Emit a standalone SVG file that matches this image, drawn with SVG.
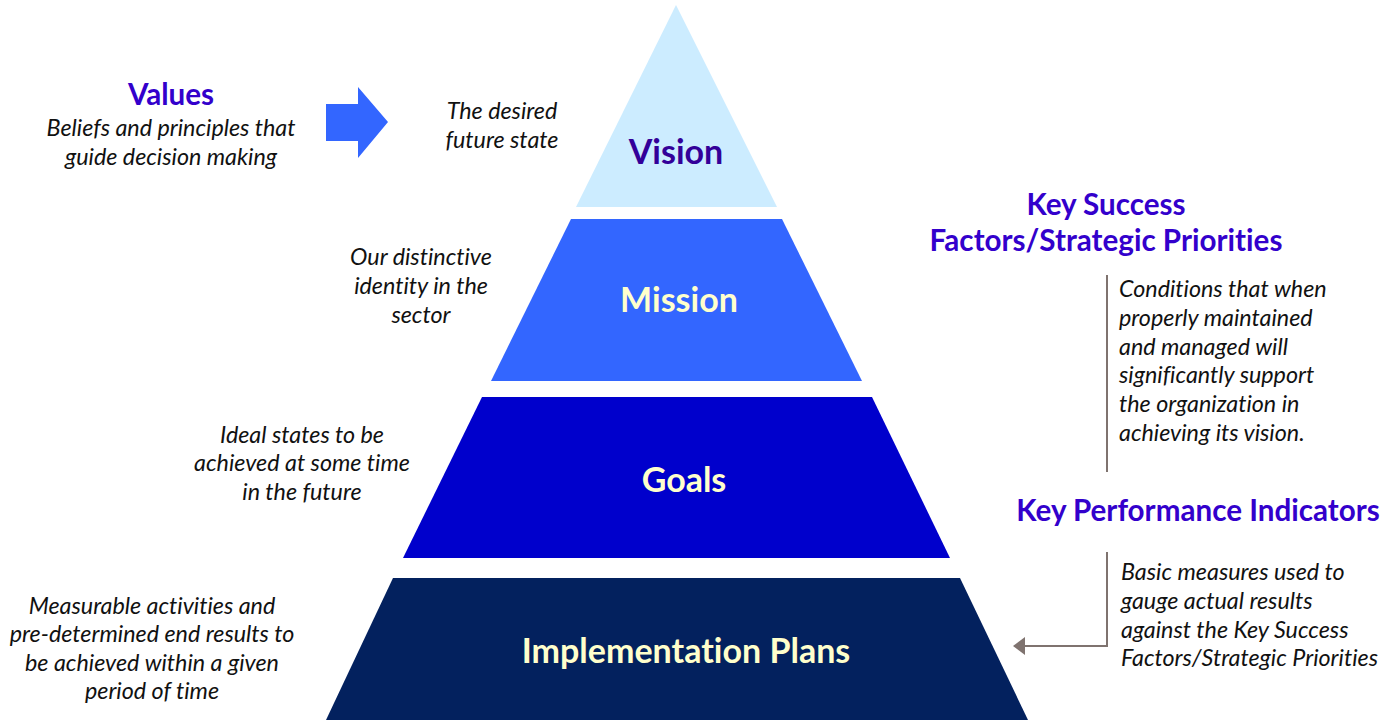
<svg xmlns="http://www.w3.org/2000/svg" width="1398" height="721" viewBox="0 0 1398 721">
  <style>
    text { font-variant-ligatures: none; }
    .note { font-family: Lato, "Open Sans", sans-serif; font-style: italic; font-size: 23.3px; fill: #111111; }
    .head { font-family: Lato, "Open Sans", sans-serif; font-weight: bold; font-size: 29.6px; fill: #3300CC; }
    .tier { font-family: Lato, "Open Sans", sans-serif; font-weight: bold; font-size: 34px; fill: #FFFFCC; text-anchor: middle; }
    .mid { text-anchor: middle; }
    .conn { fill: none; stroke: #7F736F; stroke-width: 2; }
  </style>
  <defs>
    <marker id="arrowHead" markerWidth="12" markerHeight="18" refX="0" refY="9" orient="auto" markerUnits="userSpaceOnUse">
      <path d="M0,0 L12,9 L0,18 Z" fill="#7F736F"/>
    </marker>
  </defs>
  <rect width="1398" height="721" fill="#FFFFFF"/>

  <!-- Pyramid tiers -->
  <g id="vision">
    <polygon points="676,5 576,207 777,207" fill="#CCECFF"/>
    <text class="tier" x="676" y="164" style="fill:#330099">Vision</text>
  </g>
  <g id="mission">
    <polygon points="571,219 782,219 862,381 491,381" fill="#3366FF"/>
    <text class="tier" x="679" y="312">Mission</text>
  </g>
  <g id="goals">
    <polygon points="482,397 872,397 950,558 403,558" fill="#0000CC"/>
    <text class="tier" x="684" y="492">Goals</text>
  </g>
  <g id="implementation">
    <polygon points="393,578 960,578 1028,720 326,720" fill="#03215E"/>
    <text class="tier" x="686" y="663">Implementation Plans</text>
  </g>

  <!-- Values and the block arrow pointing at the vision -->
  <g id="values">
    <text class="head mid" x="171" y="105">Values</text>
    <text class="note mid" x="171" y="136">Beliefs and principles that</text>
    <text class="note mid" x="171" y="165">guide decision making</text>
  </g>
  <g id="values-arrow">
    <polygon points="326,104 358,104 358,87 388,122 358,158 358,141 326,141" fill="#3366FF"/>
  </g>

  <!-- Tier descriptions -->
  <g id="vision-note">
    <text class="note mid" x="502" y="119">The desired</text>
    <text class="note mid" x="502" y="148">future state</text>
  </g>
  <g id="mission-note">
    <text class="note mid" x="421" y="265">Our distinctive</text>
    <text class="note mid" x="421" y="294">identity in the</text>
    <text class="note mid" x="421" y="323">sector</text>
  </g>
  <g id="goals-note">
    <text class="note mid" x="302" y="443">Ideal states to be</text>
    <text class="note mid" x="302" y="471">achieved at some time</text>
    <text class="note mid" x="302" y="500">in the future</text>
  </g>
  <g id="plans-note">
    <text class="note mid" x="152" y="614">Measurable activities and</text>
    <text class="note mid" x="152" y="642">pre-determined end results to</text>
    <text class="note mid" x="152" y="671">be achieved within a given</text>
    <text class="note mid" x="152" y="699">period of time</text>
  </g>

  <!-- Key success factors -->
  <g id="ksf">
    <text class="head mid" x="1106" y="215">Key Success</text>
    <text class="head mid" x="1106" y="251">Factors/Strategic Priorities</text>
    <text class="note" x="1119" y="297">Conditions that when</text>
    <text class="note" x="1119" y="326">properly maintained</text>
    <text class="note" x="1119" y="355">and managed will</text>
    <text class="note" x="1119" y="383">significantly support</text>
    <text class="note" x="1119" y="412">the organization in</text>
    <text class="note" x="1119" y="441">achieving its vision.</text>
  </g>

  <!-- Key performance indicators -->
  <g id="kpi">
    <text class="head mid" x="1198" y="521">Key Performance Indicators</text>
    <text class="note" x="1121" y="580">Basic measures used to</text>
    <text class="note" x="1121" y="609">gauge actual results</text>
    <text class="note" x="1121" y="638">against the Key Success</text>
    <text class="note" x="1121" y="666">Factors/Strategic Priorities</text>
  </g>

  <!-- Connectors -->
  <g id="connectors">
    <line class="conn" x1="1107" y1="275" x2="1107" y2="472"/>
    <polyline class="conn" points="1107,552 1107,646 1025,646" marker-end="url(#arrowHead)"/>
  </g>
</svg>
